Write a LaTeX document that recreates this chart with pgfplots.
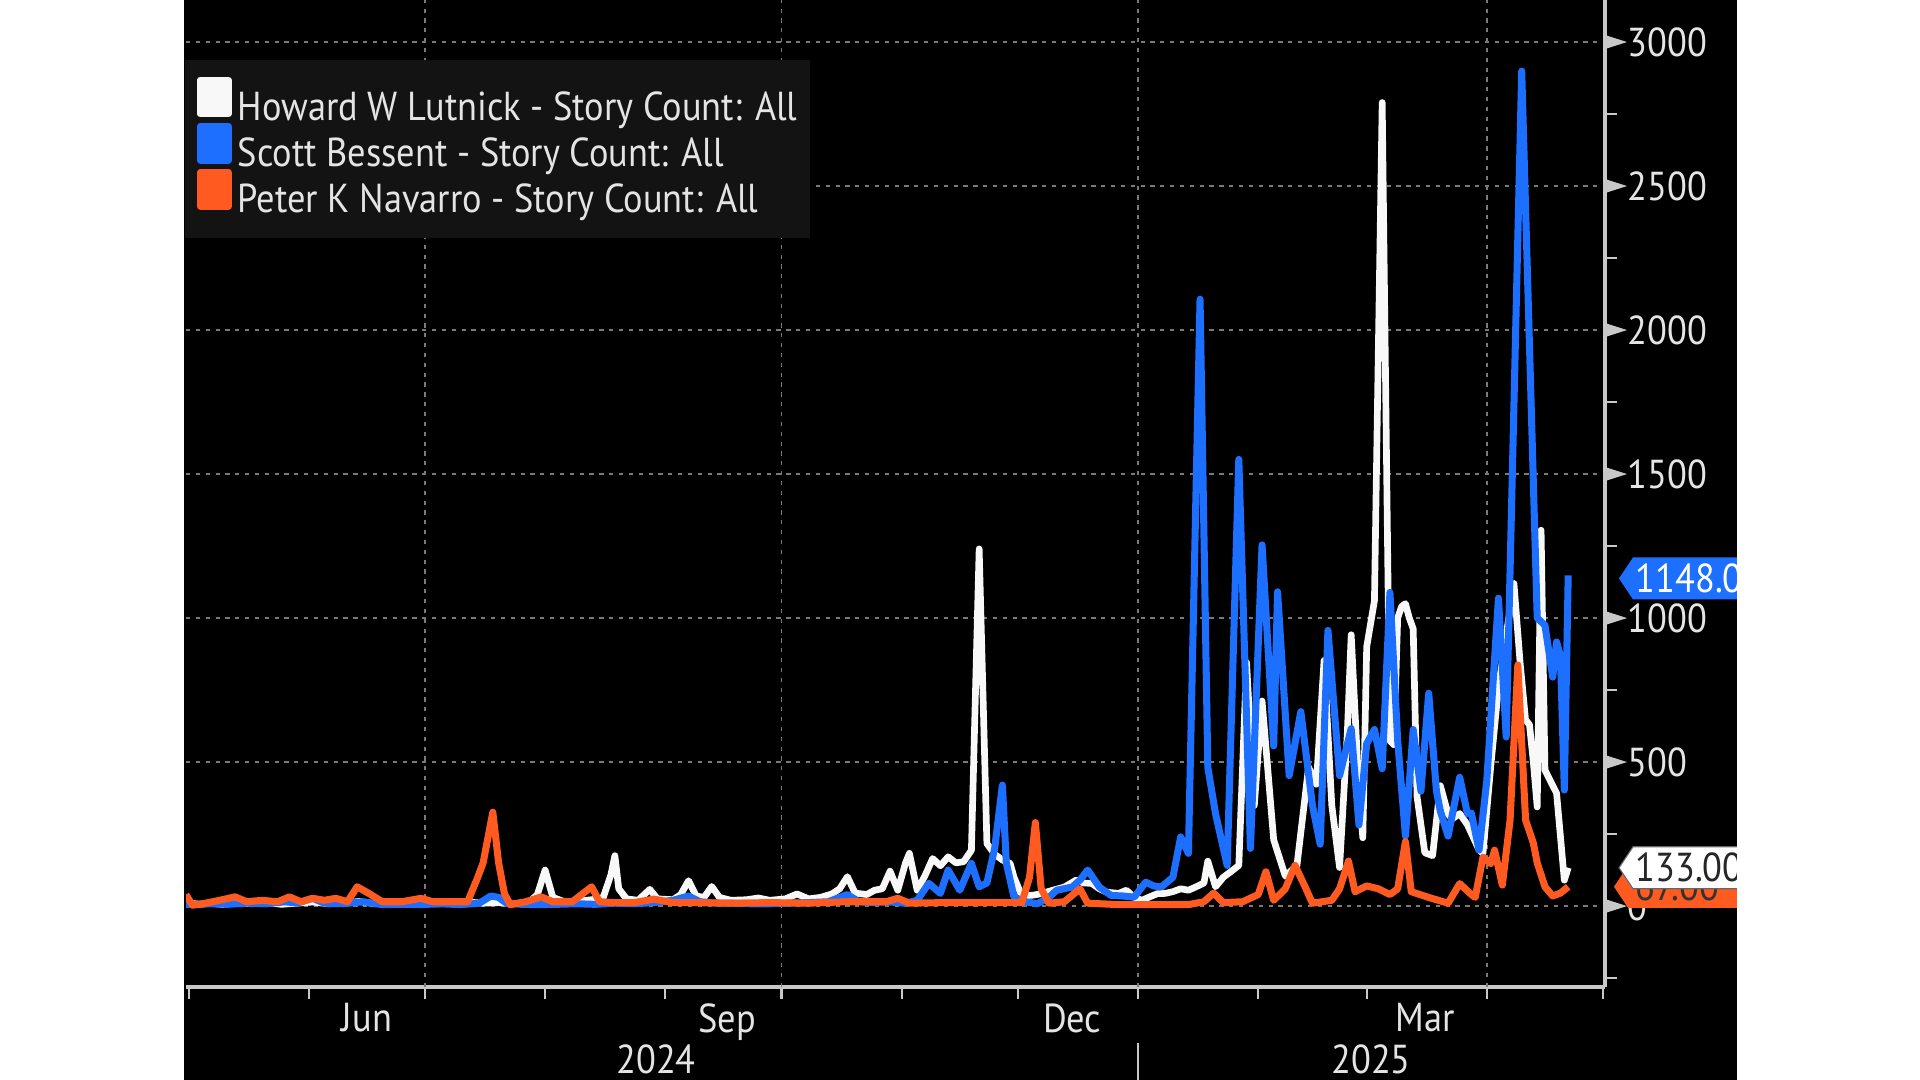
\documentclass[border=0pt]{standalone}
\usepackage{fontspec}
\setmainfont{PT Sans}[FakeStretch=0.9]
\usepackage{pgfplots}
\usepackage{pgfplotstable}
\pgfplotsset{compat=1.18}

\definecolor{lutc}{HTML}{F8F8F8}
\definecolor{besc}{HTML}{1C6FFF}
\definecolor{navc}{HTML}{FF5A1F}
\definecolor{legbg}{HTML}{131313}
\definecolor{gridc}{HTML}{7A7A7A}
\definecolor{axisc}{HTML}{C8C8C8}
\definecolor{txtc}{HTML}{E4E4E4}

% x = days since 1 May 2024
\pgfplotstableread{
x y
-0.7 12
3 6
6 10
9 5
12 14
16 8
20 12
24 6
28 10
32 14
36 8
40 10
44 16
48 8
52 10
56 6
60 12
64 8
68 10
72 14
76 10
80 12
84 8
88 15
90 40
92 125
94 30
97 15
101 18
104 22
107 30
109 110
110 175
111 60
113 25
116 20
119 58
121 25
125 22
127 40
129 88
131 35
133 30
135 68
137 30
140 20
144 22
147 28
150 20
154 25
157 42
160 25
163 30
166 42
168 60
170 102
172 45
175 40
177 55
179 60
181 121
183 55
185 150
186 183
188 55
190 105
192 165
194 140
196 171
198 150
200 154
202 194
204 1240
206 217
208 180
210 160
212 148
213 100
215 35
218 38
220 43
223 55
226 66
229 90
231 80
233 79
235 60
237 48
240 44
242 55
244 30
246 20
248 32
250 43
252 44
254 50
256 60
258 55
260 67
262 80
263 156
265 67
267 100
269 120
271 141
273 846
275 349
277 712
280 230
283 104
286 141
289 482
291 423
293 853
295 349
297 134
299 600
300 942
302 400
303 237
304 900
306 1060
308 2790
310 574
311 560
312 1000
313 1040
314 1050
315 1000
316 963
317 379
319 185
321 175
323 418
325 320
326 302
328 321
330 282
333 195
334 183
336 483
338 760
342 1120
343.6 843
345 646
346 630
347 500
348 344
349 1305
350 472
353 392
355 90
356 133
}\lut

\pgfplotstableread{
x y
-0.7 5
5 8
10 6
15 10
20 8
25 15
28 10
32 27
35 10
40 8
45 15
50 5
55 6
60 5
65 8
70 5
75 10
78 35
80 30
82 10
86 6
90 5
95 6
100 8
105 6
110 10
115 8
120 12
125 20
129 35
132 15
136 10
140 10
145 8
150 8
155 10
160 12
165 15
170 40
173 15
177 12
180 15
185 10
188 20
191 79
194 44
196 125
199 55
202 148
204 67
206 80
208 200
210 420
211 150
212 90
213 31
216 15
219 8
222 30
224 55
228 66
230 90
232 125
235 66
238 37
241 35
244 31
247 83
249 70
251 66
254 100
256 240
258 183
261 2107
263 482
265 320
268 141
271 1551
274 200
277 1254
280 556
281 1091
284 453
287 675
290 350
292 215
294 957
297 453
300 616
302 282
304 564
306 613
308 477
310 1089
312 574
314 243
316 613
318 399
320 739
322 399
323 330
325 243
328 447
330 321
331 323
333 194
335 437
338 1069
340 587
344 2899
348 1000
350 975
352 795
353 917
354 868
355 403
356 1148
}\bes

\pgfplotstableread{
x y
-0.7 40
1 3
4 9
8 20
12 32
15 15
19 20
23 15
26 32
29 15
32 27
35 20
38 27
41 15
43.5 67
46.5 44
50 15
55 15
60 27
63 15
68 15
72 15
74.5 96
76 150
78.5 326
80 150
81.5 43
83 5
87 15
91 32
94 15
99 15
104 67
106 15
110 12
115 12
120 24
125 12
130 12
140 10
150 12
160 10
170 15
180 15
183 27
186 10
195 12
205 12
215 12
217 100
218.5 290
220 60
222 10
226 15
230 60
232 10
240 5
250 5
258 5
262 15
264.5 45
267 12
272 15
276 40
278 119
280 20
283 60
285.5 141
288 70
290 10
295 20
297 60
299.3 156
301 50
304 70
307 60
310 40
312 60
314 224
315.5 50
320 30
325 10
328 78
331 40
332 30
334 170
336 147
337 194
339 73
341 299
343 837
345 299
347 219
348 150
350 67
352 35
354 45
356 67
}\nav

\begin{document}
\begin{tikzpicture}
\useasboundingbox (0,0) rectangle (19.2,10.8);
\fill[white] (0,0) rectangle (19.2,10.8);
\fill[black] (1.84,0) rectangle (17.37,10.8);
\begin{axis}[
  at={(1.86cm,0.93cm)}, anchor=south west,
  scale only axis, width=14.19cm, height=9.87cm,
  xmin=-0.67, xmax=365.5, ymin=-281, ymax=3146,
  axis x line*=bottom, axis y line*=right,
  axis line style={draw=axisc, line width=1pt},
  tick align=outside,
  major tick length=0.12cm, minor tick length=0.12cm,
  xtick={0,31,61,92,123,153,184,214,245,276,304,335,365},
  xticklabels={},
  extra x ticks={46,139,228,319},
  extra x tick labels={Jun,Sep,Dec,Mar},
  extra x tick style={major tick length=0pt, grid=none,
    xticklabel style={yshift=-0.16cm}},
  ytick={0,500,1000,1500,2000,2500,3000},
  minor ytick={-250,250,750,1250,1750,2250,2750},
  tick style={draw=axisc, line width=0.6pt},
  ymajorgrids,
  grid style={draw=gridc, line width=0.45pt, dash pattern=on 1.2pt off 1.6pt},
  ticklabel style={text=txtc, font=\fontsize{11.5}{13}\selectfont, inner sep=0pt},
  yticklabel style={anchor=west, xshift=0.10cm},
  xticklabel style={anchor=north},
  /pgf/number format/assume math mode=true,
  /pgf/number format/1000 sep={},
  legend style={at={(-0.0014,0.9402)}, anchor=north west, fill=legbg, draw=none,
    text=txtc, font=\fontsize{11.5}{13}\selectfont,
    inner xsep=0.12cm, inner ysep=0.17cm, row sep=-0.06cm, column sep=0.06cm,
    nodes={inner sep=0pt, text height=0.29cm, text depth=0.08cm}},
  legend cell align=left,
  legend image code/.code={\fill[#1] (0cm,-0.04cm) rectangle (0.28cm,0.30cm);},
]
\draw[gridc, line width=0.45pt, dash pattern=on 1.2pt off 1.6pt] (axis cs:61,-281) -- (axis cs:61,3146);
\draw[gridc, line width=0.45pt, dash pattern=on 1.2pt off 1.6pt] (axis cs:153,-281) -- (axis cs:153,3146);
\draw[gridc, line width=0.45pt, dash pattern=on 1.2pt off 1.6pt] (axis cs:245,-281) -- (axis cs:245,3146);
\draw[gridc, line width=0.45pt, dash pattern=on 1.2pt off 1.6pt] (axis cs:335,-281) -- (axis cs:335,3146);
\addplot[color=lutc, line width=1.9pt, line join=round, no marks] table {\lut};
\addlegendentry{Howard W Lutnick - Story Count: All}
\addplot[color=besc, line width=2pt, line join=round, no marks] table {\bes};
\addlegendentry{Scott Bessent - Story Count: All}
\addplot[color=navc, line width=2pt, line join=round, no marks] table {\nav};
\addlegendentry{Peter K Navarro - Story Count: All}
\coordinate (tb) at (axis cs:365.5,1148);
\coordinate (tw) at (axis cs:365.5,133);
\coordinate (to) at (axis cs:365.5,67);
\coordinate (yt0) at (axis cs:365.5,0);
\coordinate (yt500) at (axis cs:365.5,500);
\coordinate (yt1000) at (axis cs:365.5,1000);
\coordinate (yt1500) at (axis cs:365.5,1500);
\coordinate (yt2000) at (axis cs:365.5,2000);
\coordinate (yt2500) at (axis cs:365.5,2500);
\coordinate (yt3000) at (axis cs:365.5,3000);
\end{axis}
% tick triangles
\foreach \v in {0,500,1000,1500,2000,2500,3000}{
  \fill[axisc] (yt\v) ++(0,0.07) -- ++(0.22,-0.07) -- ++(-0.22,-0.07) -- cycle;
}
% value tags
\fill[navc] ([xshift=0.09cm]to) -- ++(0.14,0.21) -- ++(2.2,0) -- ++(0,-0.42) -- ++(-2.2,0) -- cycle;
\node[anchor=west, text=black!80, font=\fontsize{11.5}{13}\selectfont, inner sep=0pt] at ([xshift=0.3cm]to) {67.00};
\filldraw[fill=white, draw=black!60, line width=0.3pt] ([xshift=0.14cm]tw) -- ++(0.14,0.21) -- ++(2.2,0) -- ++(0,-0.42) -- ++(-2.2,0) -- cycle;
\node[anchor=west, text=black!85, font=\fontsize{11.5}{13}\selectfont, inner sep=0pt] at ([xshift=0.3cm]tw) {133.00};
\fill[besc] ([xshift=0.14cm,yshift=-0.03cm]tb) -- ++(0.14,0.21) -- ++(2.2,0) -- ++(0,-0.42) -- ++(-2.2,0) -- cycle;
\node[anchor=west, text=white, font=\fontsize{11.5}{13}\selectfont, inner sep=0pt] at ([xshift=0.3cm,yshift=-0.03cm]tb) {1148.00};
% year labels
\draw[axisc, line width=0.5pt] (11.38,0) -- (11.38,0.37);
\node[text=txtc, font=\fontsize{11.5}{13}\selectfont, inner sep=0pt] at (6.56,0.21) {2024};
\node[text=txtc, font=\fontsize{11.5}{13}\selectfont, inner sep=0pt] at (13.71,0.21) {2025};
% right margin
\fill[white] (17.37,0) rectangle (19.2,10.8);
\end{tikzpicture}
\end{document}
